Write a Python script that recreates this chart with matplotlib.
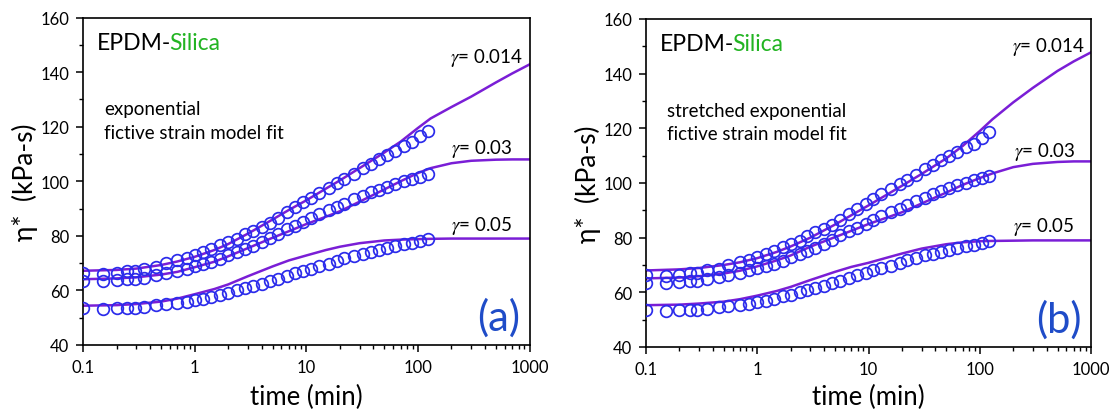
import matplotlib
matplotlib.use("Agg")
import matplotlib.pyplot as plt
from matplotlib.ticker import FixedLocator, LogLocator, MultipleLocator, NullFormatter

plt.rcParams['font.family'] = ['Lato', 'DejaVu Sans']
plt.rcParams['mathtext.fontset'] = 'stix'

# ---- measured complex viscosity (same data in both panels) ----
time_min = [0.1, 0.15, 0.2, 0.25, 0.29, 0.355, 0.45, 0.55, 0.7, 0.85,
            1.0, 1.2, 1.4, 1.7, 2.0, 2.4, 2.8, 3.3, 4.0, 4.7,
            5.6, 6.7, 7.9, 9.4, 11, 13, 16, 19, 22, 27,
            32, 38, 45, 53, 63, 75, 89, 105, 122]

eta_g0014 = [66.2, 66.0, 66.2, 67.0, 67.0, 68.0, 68.5, 70.0, 71.0, 72.0,
             73.0, 74.0, 75.0, 76.7, 77.8, 78.9, 80.5, 81.9, 83.3, 84.8,
             86.6, 88.6, 90.4, 92.3, 94.0, 95.8, 97.7, 99.5, 101.0, 102.8,
             105.0, 106.5, 108.3, 109.8, 111.2, 113.0, 114.4, 116.4, 118.5]

eta_g003 = [63.5, 63.5, 63.7, 64.3, 64.3, 64.7, 65.5, 66.3, 67.0, 68.0,
            69.0, 69.8, 70.5, 71.6, 72.9, 74.0, 75.0, 76.3, 77.8, 79.3,
            80.8, 82.4, 83.6, 85.0, 86.4, 87.9, 89.4, 90.6, 91.8, 93.4,
            94.6, 96.0, 96.9, 98.0, 99.1, 100.1, 101.0, 101.7, 102.6]

eta_g005 = [53.7, 53.3, 53.6, 53.7, 53.7, 54.0, 54.5, 54.9, 55.4, 55.8,
            56.4, 57.0, 57.6, 58.5, 59.2, 60.0, 60.8, 61.6, 62.5, 63.5,
            64.3, 65.3, 66.2, 67.1, 68.0, 69.0, 69.8, 70.8, 71.8, 72.6,
            73.5, 74.2, 74.8, 75.6, 76.3, 76.9, 77.5, 78.1, 78.7]

# ---- fictive strain model curves ----
time_fit = [0.1, 0.2, 0.3, 0.5, 0.7, 1, 1.5, 2, 3, 5, 7, 10, 15, 20, 30,
            50, 70, 100, 130, 200, 300, 500, 700, 1000]

# (a) exponential
fitA_g0014 = [67.2, 67.5, 68.0, 69.3, 70.6, 72.3, 74.8, 77.0, 80.8, 86.0, 89.5,
              93.0, 97.3, 100.3, 104.8, 110.5, 114.5, 119.5, 123.0, 127.2, 131.0,
              136.2, 139.5, 142.8]
fitA_g003 = [64.1, 64.4, 64.8, 65.8, 66.8, 68.5, 70.5, 72.5, 75.5, 79.3, 81.7,
             84.3, 87.0, 89.0, 92.5, 97.0, 100.0, 103.0, 104.8, 106.6, 107.5,
             107.9, 108.0, 108.0]
fitA_g005 = [54.4, 54.6, 55.0, 55.9, 57.0, 58.6, 60.5, 62.2, 65.2, 68.8, 71.0,
             72.8, 74.8, 76.0, 77.3, 78.3, 78.6, 78.8, 78.9, 79.0, 79.0,
             79.0, 79.0, 79.0]

# (b) stretched exponential
fitB_g0014 = [68.0, 68.4, 68.9, 70.0, 71.0, 72.5, 74.8, 76.8, 80.0, 84.8, 88.2,
              91.8, 96.0, 99.0, 103.3, 109.0, 113.5, 119.0, 123.3, 129.5, 134.8,
              141.0, 144.5, 147.8]
fitB_g003 = [65.1, 65.4, 65.9, 66.9, 67.9, 69.5, 71.7, 73.5, 76.7, 80.2, 82.5,
             85.0, 87.5, 89.3, 92.5, 96.5, 99.3, 101.8, 103.5, 105.8, 107.0,
             107.7, 107.9, 107.9]
fitB_g005 = [55.3, 55.5, 55.9, 56.6, 57.5, 58.8, 60.5, 62.0, 64.5, 67.5, 69.3,
             70.8, 72.8, 74.2, 76.0, 77.6, 78.3, 78.7, 78.8, 78.9, 79.0,
             79.0, 79.0, 79.0]

xtick_vals = [0.1, 1, 10, 100, 1000]
xtick_labels = ['0.1', '1', '10', '100', '1000']
strain_labels = ['0.014', '0.03', '0.05']

MARK = '#2B2BEB'
LINE = '#7A1ED6'
TAG = '#1F4CC8'
GREEN = '#22B422'

W, H = 1111, 414
fig = plt.figure(figsize=(W / 100, H / 100), dpi=100)


def axes_px(x0, x1, y0, y1):
    return fig.add_axes([x0 / W, 1 - y1 / H, (x1 - x0) / W, (y1 - y0) / H])


def style(ax):
    ax.set_xscale('log')
    ax.set_xlim(0.1, 1000)
    ax.set_ylim(40, 160)
    ax.xaxis.set_major_locator(FixedLocator(xtick_vals))
    ax.set_xticklabels(xtick_labels)
    ax.xaxis.set_minor_locator(LogLocator(base=10, subs=range(2, 10)))
    ax.xaxis.set_minor_formatter(NullFormatter())
    ax.yaxis.set_major_locator(MultipleLocator(20))
    ax.yaxis.set_minor_locator(MultipleLocator(10))
    ax.tick_params(which='major', direction='out', length=5, width=1.1,
                   labelsize=12, pad=5, top=False, right=False)
    ax.tick_params(which='minor', direction='out', length=3, width=1.0,
                   top=False, right=False)
    for s in ax.spines.values():
        s.set_linewidth(1.2)


def panel(ax, fits, model_text, tag, label_pos, xcenter_px):
    style(ax)
    for f in fits:
        ax.plot(time_fit, f, color=LINE, lw=1.8, zorder=2)
    for eta in (eta_g0014, eta_g003, eta_g005):
        ax.plot(time_min, eta, 'o', ls='none', ms=8.4, mfc='none',
                mec=MARK, mew=1.25, zorder=3)
    t1 = ax.text(0.032, 0.925, 'EPDM-', transform=ax.transAxes,
                 fontsize=16.5, ha='left', va='center', color='black')
    ax.annotate('Silica', xy=(1, 0), xycoords=t1, xytext=(-1.5, 0),
                textcoords='offset points', fontsize=16.5,
                ha='left', va='bottom', color=GREEN)
    ax.text(model_text[1], 0.722, model_text[0][0], transform=ax.transAxes,
            fontsize=13.5, ha='left', va='center')
    ax.text(model_text[1], 0.650, model_text[0][1], transform=ax.transAxes,
            fontsize=13.5, ha='left', va='center')
    for (tx, ty), s in zip(label_pos, strain_labels):
        ax.text(tx, ty, r'$\gamma$= ' + s, fontsize=13.5, ha='right', va='center')
    ax.text(0.978, 0.085, tag, transform=ax.transAxes, fontsize=30,
            ha='right', va='center', color=TAG)
    fig.text(xcenter_px / W, 1 - 397 / H, 'time (min)',
             fontsize=18.5, ha='center', va='center')
    ax.text(-0.131, 0.5, 'η*  (kPa-s)', transform=ax.transAxes,
            fontsize=19, ha='center', va='center', rotation=90)


ax_a = axes_px(83, 529.5, 18.5, 346)
panel(ax_a, (fitA_g0014, fitA_g003, fitA_g005),
      (('exponential', 'fictive strain model fit'), 0.048), '(a)',
      [(871, 145.5), (703, 112.2), (703, 83.9)], 306)

ax_b = axes_px(646, 1091, 20, 348)
panel(ax_b, (fitB_g0014, fitB_g003, fitB_g005),
      (('stretched exponential', 'fictive strain model fit'), 0.048), '(b)',
      [(876, 150.2), (718, 111.8), (708, 84.4)], 868.5)

fig.savefig('out.png', dpi=100)
